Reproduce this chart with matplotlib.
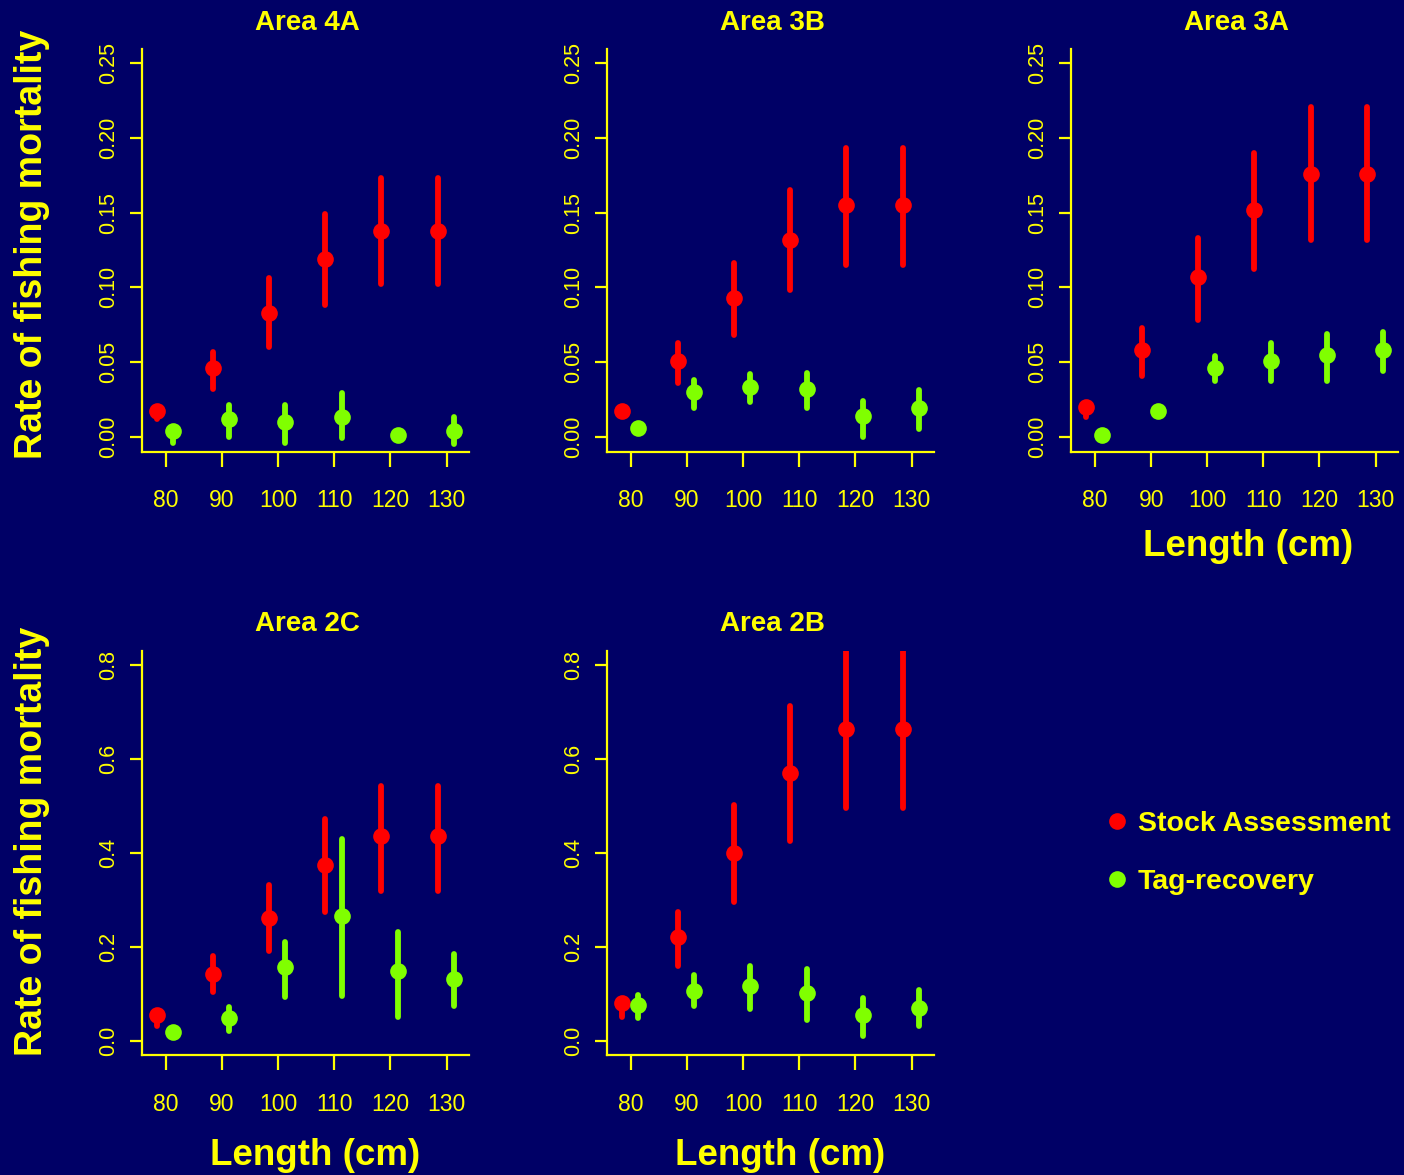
import matplotlib
matplotlib.use("Agg")
from matplotlib import pyplot as plt
from matplotlib.lines import Line2D

# lengths (cm) of the size classes
lengths = [80, 90, 100, 110, 120, 130]

# Area 4A
sa_4a = [0.017, 0.046, 0.083, 0.119, 0.138, 0.138]
sa_4a_lo = [0.012, 0.032, 0.060, 0.088, 0.102, 0.102]
sa_4a_hi = [0.020, 0.057, 0.106, 0.149, 0.173, 0.173]
tag_4a = [0.004, 0.012, 0.010, 0.013, 0.001, 0.004]
tag_4a_lo = [-0.004, 0.000, -0.004, -0.001, 0.001, -0.005]
tag_4a_hi = [0.006, 0.021, 0.021, 0.029, 0.001, 0.013]

# Area 3B
sa_3b = [0.017, 0.051, 0.093, 0.132, 0.155, 0.155]
sa_3b_lo = [0.017, 0.036, 0.068, 0.098, 0.115, 0.115]
sa_3b_hi = [0.017, 0.063, 0.116, 0.165, 0.193, 0.193]
tag_3b = [0.006, 0.030, 0.033, 0.032, 0.014, 0.019]
tag_3b_lo = [0.006, 0.019, 0.023, 0.019, 0.000, 0.005]
tag_3b_hi = [0.006, 0.038, 0.042, 0.043, 0.024, 0.031]

# Area 3A
sa_3a = [0.020, 0.058, 0.107, 0.152, 0.176, 0.176]
sa_3a_lo = [0.013, 0.041, 0.078, 0.112, 0.132, 0.132]
sa_3a_hi = [0.021, 0.073, 0.133, 0.190, 0.221, 0.221]
tag_3a = [0.001, 0.017, 0.046, 0.051, 0.055, 0.058]
tag_3a_lo = [0.001, 0.017, 0.037, 0.037, 0.037, 0.044]
tag_3a_hi = [0.001, 0.017, 0.054, 0.063, 0.069, 0.070]

# Area 2C
sa_2c = [0.054, 0.142, 0.261, 0.374, 0.436, 0.436]
sa_2c_lo = [0.032, 0.104, 0.190, 0.273, 0.319, 0.319]
sa_2c_hi = [0.056, 0.181, 0.332, 0.471, 0.543, 0.543]
tag_2c = [0.018, 0.049, 0.157, 0.266, 0.148, 0.131]
tag_2c_lo = [0.018, 0.021, 0.093, 0.095, 0.051, 0.073]
tag_2c_hi = [0.018, 0.071, 0.211, 0.429, 0.231, 0.185]

# Area 2B
sa_2b = [0.081, 0.220, 0.400, 0.570, 0.663, 0.663]
sa_2b_lo = [0.051, 0.159, 0.295, 0.426, 0.495, 0.495]
sa_2b_hi = [0.081, 0.273, 0.501, 0.712, 0.829, 0.829]
tag_2b = [0.075, 0.106, 0.117, 0.102, 0.054, 0.070]
tag_2b_lo = [0.047, 0.073, 0.068, 0.043, 0.010, 0.031]
tag_2b_hi = [0.098, 0.139, 0.159, 0.153, 0.091, 0.108]

top_ticks = [0.00, 0.05, 0.10, 0.15, 0.20, 0.25]
bottom_ticks = [0.0, 0.2, 0.4, 0.6, 0.8]

BG = "#000066"
YEL = "#FFFF00"
RED = "#FF0000"
GREEN = "#80FF00"
W, H = 1404, 1175
FONT = "Liberation Sans"

fig = plt.figure(figsize=(W / 100, H / 100), dpi=100, facecolor=BG)


def add_panel(left, top, right, bottom):
    # positions given in pixels, like reading off the picture
    return fig.add_axes([left / W, 1 - bottom / H, (right - left) / W, (bottom - top) / H])


def draw(ax, title, sa, sa_lo, sa_hi, tag, tag_lo, tag_hi, yticks, fmt, ylim):
    ax.set_facecolor(BG)
    xs_red = [x - 1.6 for x in lengths]
    xs_grn = [x + 1.3 for x in lengths]
    lc = ax.vlines(xs_red, sa_lo, sa_hi, color=RED, lw=4.2)
    lc.set_capstyle("round")
    ax.plot(xs_red, sa, "o", color=RED, ms=12, mec="none")
    lc = ax.vlines(xs_grn, tag_lo, tag_hi, color=GREEN, lw=4.2)
    lc.set_capstyle("round")
    ax.plot(xs_grn, tag, "o", color=GREEN, ms=12, mec="none")

    ax.set_xlim(75.7, 134.0)
    ax.set_ylim(*ylim)
    ax.spines["top"].set_visible(False)
    ax.spines["right"].set_visible(False)
    for s in ("left", "bottom"):
        ax.spines[s].set_color(YEL)
        ax.spines[s].set_linewidth(1.6)
    ax.set_xticks(lengths)
    ax.set_xticklabels([str(v) for v in lengths])
    ax.set_yticks(yticks)
    ax.set_yticklabels([fmt % v for v in yticks], rotation=90, va="center")
    ax.tick_params(axis="x", colors=YEL, length=11, width=1.6, pad=16, labelsize=16.5)
    ax.tick_params(axis="y", colors=YEL, length=8.5, width=1.6, pad=8, labelsize=15.5)
    for lab in ax.get_xticklabels() + ax.get_yticklabels():
        lab.set_family(FONT)
    ax.set_title(title, color=YEL, fontsize=20, fontweight="bold",
                 family=FONT, pad=14, x=0.506)


top_lim = (-0.01, 0.2594)
bot_lim = (-0.0315, 0.8307)

ax1 = add_panel(141.7, 49.3, 469, 451.7)
draw(ax1, "Area 4A", sa_4a, sa_4a_lo, sa_4a_hi, tag_4a, tag_4a_lo, tag_4a_hi,
     top_ticks, "%.2f", top_lim)
ax2 = add_panel(606.7, 49.3, 934, 451.7)
draw(ax2, "Area 3B", sa_3b, sa_3b_lo, sa_3b_hi, tag_3b, tag_3b_lo, tag_3b_hi,
     top_ticks, "%.2f", top_lim)
ax3 = add_panel(1071, 49.3, 1398, 451.7)
draw(ax3, "Area 3A", sa_3a, sa_3a_lo, sa_3a_hi, tag_3a, tag_3a_lo, tag_3a_hi,
     top_ticks, "%.2f", top_lim)
ax4 = add_panel(141.7, 650.7, 469, 1055.3)
draw(ax4, "Area 2C", sa_2c, sa_2c_lo, sa_2c_hi, tag_2c, tag_2c_lo, tag_2c_hi,
     bottom_ticks, "%.1f", bot_lim)
ax5 = add_panel(606.7, 650.7, 934, 1055.3)
draw(ax5, "Area 2B", sa_2b, sa_2b_lo, sa_2b_hi, tag_2b, tag_2b_lo, tag_2b_hi,
     bottom_ticks, "%.1f", bot_lim)

# axis labels
lab_kw = dict(color=YEL, fontweight="bold", family=FONT)
fig.text(32 / W, 1 - 244 / H, "Rate of fishing mortality", rotation=90,
         ha="center", va="center", fontsize=27, **lab_kw)
fig.text(32 / W, 1 - 841 / H, "Rate of fishing mortality", rotation=90,
         ha="center", va="center", fontsize=27, **lab_kw)
fig.text(1248 / W, 1 - 556 / H, "Length (cm)", ha="center", va="baseline",
         fontsize=26.5, **lab_kw)
fig.text(315 / W, 1 - 1165 / H, "Length (cm)", ha="center", va="baseline",
         fontsize=26.5, **lab_kw)
fig.text(780 / W, 1 - 1165 / H, "Length (cm)", ha="center", va="baseline",
         fontsize=26.5, **lab_kw)

# legend
handles = [Line2D([], [], ls="none", marker="o", color=RED, ms=12, mec="none"),
           Line2D([], [], ls="none", marker="o", color=GREEN, ms=12, mec="none")]
leg = fig.legend(handles, ["Stock Assessment", "Tag-recovery"], loc="center left",
                 bbox_to_anchor=(1084 / W, 1 - 853 / H), frameon=False,
                 handlelength=0.5, handletextpad=0.49, labelspacing=1.12,
                 prop={"family": FONT, "weight": "bold", "size": 20.5})
for t in leg.get_texts():
    t.set_color(YEL)

fig.savefig("out.png", dpi=100, facecolor=BG)
